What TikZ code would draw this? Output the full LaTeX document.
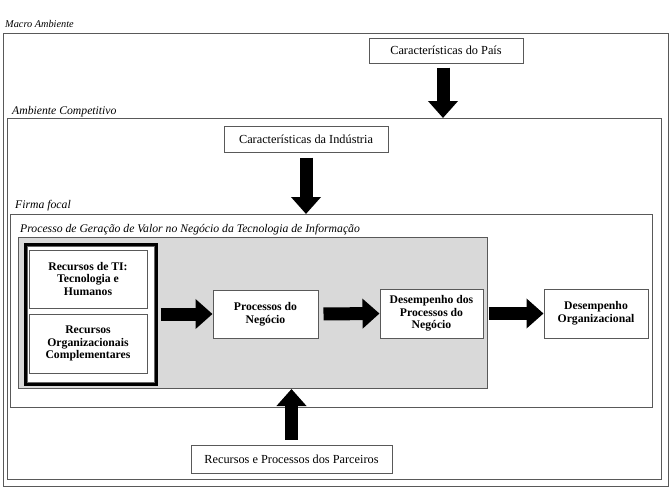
\documentclass[tikz,border=0pt]{standalone}
\usepackage{fontspec}
\setmainfont{Liberation Serif}
\usetikzlibrary{arrows.meta}

\tikzset{
  caixa/.style={draw=black!65, line width=1pt, fill=white, align=center, inner sep=1pt,
    font=\fontsize{11.7}{12.6}\selectfont},
  externo/.style={caixa, font=\fontsize{12.3}{13}\selectfont},
  moldura/.style={draw=black!65, line width=1pt, anchor=north west, inner sep=0pt},
  rotulo/.style={anchor=base west, inner sep=0pt, font=\itshape\fontsize{11.7}{12}\selectfont},
  seta/.style={line width=13pt, -{Triangle[width=29pt,length=17pt]}},
}

\begin{document}
\begin{tikzpicture}[x=1pt,y=-1pt]
\useasboundingbox (0,0) rectangle (672,488);

% ambientes
\node[moldura, minimum width=665, minimum height=453] (macro) at (3,33) {};
\node[moldura, minimum width=654, minimum height=361] (comp) at (7,118) {};
\node[moldura, minimum width=642, minimum height=193] (firma) at (10,214) {};
\node[moldura, fill=black!15, minimum width=469, minimum height=151] (processo) at (18,237) {};

\node[rotulo, font=\itshape\fontsize{10.3}{11}\selectfont] (lmacro) at (5,27) {Macro Ambiente};
\node[rotulo] (lcomp) at (12,114) {Ambiente Competitivo};
\node[rotulo] (lfirma) at (15,208) {Firma focal};
\node[rotulo] (lprocesso) at (20,232) {Processo de Geração de Valor no Negócio da Tecnologia de Informação};

% recursos
\node[moldura, draw=black, line width=2.5pt, fill=white, minimum width=131, minimum height=140] (grupo) at (24,243) {};
\draw[black!60, line width=0.6pt] ([shift={(3,3)}]grupo.north west) rectangle ([shift={(-3,-3)}]grupo.south east);
\node[caixa, minimum width=118, minimum height=58] (ti) at (88,279) {\textbf{Recursos de TI:}\\\textbf{Tecnologia e}\\\textbf{Humanos}};
\node[caixa, minimum width=118, minimum height=59] (org) at (88,343.5) {\textbf{Recursos}\\\textbf{Organizacionais}\\\textbf{Complementares}};

% processo
\node[caixa, minimum width=105, minimum height=48] (pn) at (265.5,314) {\textbf{Processos do}\\\textbf{Negócio}};
\node[caixa, minimum width=103, minimum height=49] (dp) at (431.5,313.5) {\textbf{Desempenho dos}\\\textbf{Processos do}\\\textbf{Negócio}};
\node[caixa, minimum width=104, minimum height=49] (do) at (596,313.5) {\textbf{Desempenho}\\\textbf{Organizacional}};

% fatores externos
\node[externo, minimum width=154, minimum height=25] (pais) at (446,50.5) {Características do País};
\node[externo, minimum width=164, minimum height=26] (ind) at (306,139) {Características da Indústria};
\node[externo, minimum width=201, minimum height=28] (parc) at (291.5,459) {Recursos e Processos dos Parceiros};

\draw[seta, shorten <=4pt] (pais.south -| 443,0) -- (443,0 |- comp.north);
\draw[seta, shorten <=5pt] (ind.south) -- (ind.south |- firma.north);
\draw[seta, shorten <=5pt] (parc.north) -- (parc.north |- processo.south);
\draw[seta, shorten <=3pt] (grupo.east |- pn.west) -- (pn.west);
\draw[seta, shorten <=5pt] (pn.east) -- (dp.west);
\draw[seta, shorten <=5pt] (dp.east) -- (do.west);
\end{tikzpicture}
\end{document}
